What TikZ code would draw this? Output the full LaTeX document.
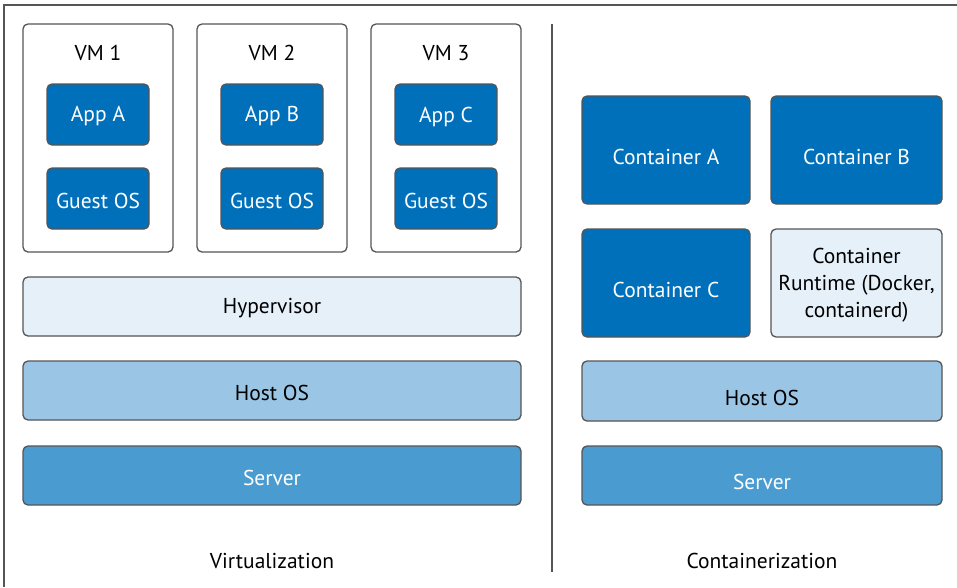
\documentclass[tikz,border=0pt]{standalone}
\usepackage{fontspec}
\setmainfont{PT Sans}
\definecolor{dblue}{HTML}{0070BB}
\definecolor{hyper}{HTML}{E6F0F8}
\definecolor{hostc}{HTML}{9AC5E5}
\definecolor{servc}{HTML}{4A9BD0}
\definecolor{edge}{HTML}{555555}
\begin{document}
\begin{tikzpicture}[x=1pt,y=-1pt,
  box/.style={draw=edge,line width=1.3pt,rounded corners=5pt},
  lbl/.style={font=\fontsize{21.5}{27}\selectfont,align=center,inner sep=0pt,yshift=-2pt},
  wlbl/.style={lbl,text=white}]
\useasboundingbox (0,0) rectangle (957,587);
% frame
\draw[edge,line width=1.5pt] (4,587) -- (4,5) -- (957,5);
\coordinate (d1) at (551.5,24);
\coordinate (d2) at (551.5,572);
\draw[edge,line width=2pt] (d1) -- (d2);
% VMs
\foreach \i/\x/\app in {1/23/A,2/197/B,3/371/C}{
  \draw[box,fill=white] (\x,24) rectangle ++(150,228);
  \node[lbl] (vm\i) at (\x+75,51) {VM \i};
  \draw[box,fill=dblue] (\x+24,84) rectangle ++(102,61);
  \node[wlbl] (app\i) at (\x+75,114.5) {App \app};
  \draw[box,fill=dblue] (\x+24,168) rectangle ++(102,61);
  \node[wlbl] (gos\i) at (\x+75,198.5) {Guest OS};
}
\draw[box,fill=hyper] (23,277) rectangle (521,336);
\node[lbl] (hyp) at (272,306.5) {Hypervisor};
\draw[box,fill=hostc] (23,361) rectangle (521,420);
\node[lbl] (hostl) at (272,390.5) {Host OS};
\draw[box,fill=servc] (23,446) rectangle (521,505);
\node[wlbl] (servl) at (272,475.5) {Server};
\node[lbl] (virt) at (272,559) {Virtualization};
% containers
\draw[box,fill=dblue] (582,96) rectangle (750,204);
\node[wlbl] (ca) at (666,155) {Container A};
\draw[box,fill=dblue] (771,96) rectangle (942,204);
\node[wlbl] (cb) at (856.5,155) {Container B};
\draw[box,fill=dblue] (582,229) rectangle (750,337);
\node[wlbl] (cc) at (666,288) {Container C};
\draw[box,fill=hyper] (771,229) rectangle (942,337);
\node[lbl] (rt) at (856.5,283) {Container\\Runtime (Docker,\\containerd)};
\draw[box,fill=hostc] (582,361) rectangle (942,421);
\node[lbl] (hostr) at (762,396) {Host OS};
\draw[box,fill=servc] (582,446) rectangle (942,505);
\node[wlbl] (servr) at (762,480) {Server};
\node[lbl] (cont) at (762,559) {Containerization};
\end{tikzpicture}
\end{document}
